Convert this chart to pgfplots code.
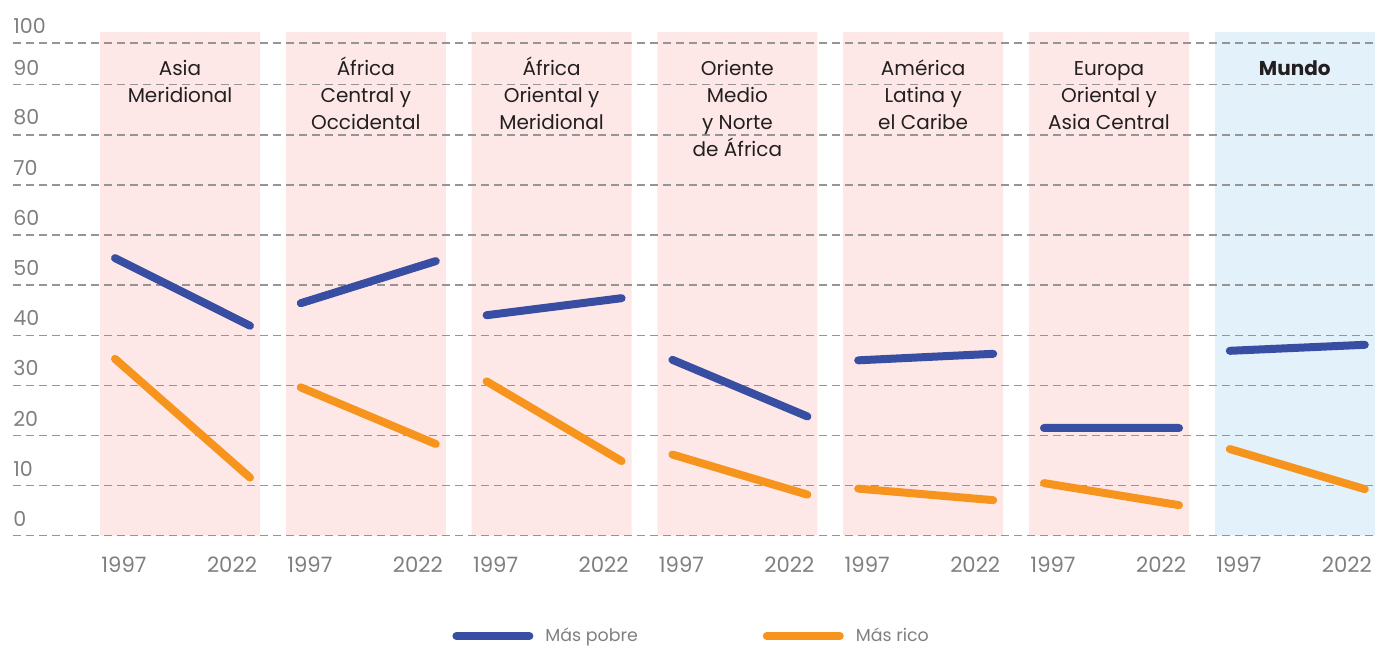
\documentclass[border=0pt]{standalone}
\usepackage{fontspec}
\setmainfont{Poppins}
\usepackage{pgfplots}
\usepackage{pgfplotstable}
\pgfplotsset{compat=1.18}
\definecolor{pobre}{HTML}{374EA2}
\definecolor{rico}{HTML}{F7941D}
\definecolor{rosa}{HTML}{FDE8E7}
\definecolor{celeste}{HTML}{E2F1FA}
\definecolor{rejilla}{HTML}{959595}
\definecolor{gris}{HTML}{7F7F7F}
\definecolor{texto}{HTML}{231F20}

% x en "pixeles" de la figura original; nan corta la linea entre paneles
\pgfplotstableread{
x      pobre  rico
115    55.4   35.3
250    41.9   11.6
260    nan    nan
300.8  46.4   29.6
435.8  54.8   18.3
445    nan    nan
486.6  44.0   30.8
621.6  47.4   14.9
630    nan    nan
672.4  35.1   16.2
807.4  23.8    8.2
815    nan    nan
858.2  35.0    9.4
993.2  36.3    7.1
1000   nan    nan
1044   21.5   10.5
1179   21.5    6.1
1185   nan    nan
1229.8 36.9   17.3
1364.8 38.1    9.3
}\datos

\begin{document}
\begin{tikzpicture}
\begin{axis}[
  set layers,
  scale only axis,
  width=681.5pt, height=323pt,
  xmin=13, xmax=1376,
  ymin=-22, ymax=106.9,
  clip=false,
  axis line style={draw=none},
  xtick=\empty,
  ytick={0,10,...,90,98.3},
  yticklabels={0,10,20,30,40,50,60,70,80,90,100},
  major tick length=0pt,
  yticklabel style={anchor=south west, inner sep=0pt, yshift=4.5pt,
    font=\fontsize{10.3}{12}\selectfont, text=gris},
  ymajorgrids,
  grid style={rejilla, line width=0.75pt, dash pattern=on 4pt off 2.5pt},
  unbounded coords=jump,
  legend image code/.code={
    \draw[#1] (2pt,0pt) -- (34.5pt,0pt);
    \path (0pt,0pt) -- (36.5pt,0pt);},
  legend style={at={(axis cs:452,-20)}, anchor=west, draw=none, fill=none,
    legend columns=2, inner sep=0pt,
    font=\fontsize{8.7}{10}\selectfont, text=gris,
    /tikz/every odd column/.append style={column sep=4pt},
    /tikz/every even column/.append style={column sep=60.5pt}},
]
% paneles de fondo
\addplot[fill=rosa, draw=none, on layer=axis background, forget plot]
  coordinates {(100,0) (260,0) (260,100.5) (100,100.5) (100,0)};
\addplot[fill=rosa, draw=none, on layer=axis background, forget plot]
  coordinates {(285.8,0) (445.8,0) (445.8,100.5) (285.8,100.5) (285.8,0)};
\addplot[fill=rosa, draw=none, on layer=axis background, forget plot]
  coordinates {(471.6,0) (631.6,0) (631.6,100.5) (471.6,100.5) (471.6,0)};
\addplot[fill=rosa, draw=none, on layer=axis background, forget plot]
  coordinates {(657.4,0) (817.4,0) (817.4,100.5) (657.4,100.5) (657.4,0)};
\addplot[fill=rosa, draw=none, on layer=axis background, forget plot]
  coordinates {(843.2,0) (1003.2,0) (1003.2,100.5) (843.2,100.5) (843.2,0)};
\addplot[fill=rosa, draw=none, on layer=axis background, forget plot]
  coordinates {(1029,0) (1189,0) (1189,100.5) (1029,100.5) (1029,0)};
\addplot[fill=celeste, draw=none, on layer=axis background, forget plot]
  coordinates {(1214.8,0) (1374.8,0) (1374.8,100.5) (1214.8,100.5) (1214.8,0)};

% series
\addplot[pobre, line width=4pt, line cap=round, forget plot] table[x=x, y=pobre] {\datos};
\addplot[rico, line width=4pt, line cap=round, forget plot] table[x=x, y=rico] {\datos};

\addlegendimage{pobre, line width=4pt, line cap=round}
\addlegendentry{Más pobre}
\addlegendimage{rico, line width=4pt, line cap=round}
\addlegendentry{Más rico}

% rotulos de paneles (anchor=base = linea de base de la ultima linea)
\begin{scope}[every node/.style={text=texto, align=center, anchor=base,
    inner sep=0pt, font=\fontsize{10}{13.5}\selectfont}]
\node at (axis cs:180,86.4) {Asia\\Meridional};
\node at (axis cs:365.8,81.0) {África\\Central y\\Occidental};
\node at (axis cs:551.6,81.0) {África\\Oriental y\\Meridional};
\node at (axis cs:737.4,75.6) {Oriente\\Medio\\y Norte\\de África};
\node at (axis cs:923.2,81.0) {América\\Latina y\\el Caribe};
\node at (axis cs:1109,81.0) {Europa\\Oriental y\\Asia Central};
\node[font=\fontsize{10}{13.5}\selectfont\bfseries] at (axis cs:1294.8,91.8) {Mundo};
\end{scope}
\pgfplotsinvokeforeach{100,285.8,471.6,657.4,843.2,1029,1214.8}{
  \node[text=gris, anchor=base, inner sep=0pt, font=\fontsize{10.6}{12}\selectfont]
    at (axis cs:#1+24,-7.4) {1997};
  \node[text=gris, anchor=base, inner sep=0pt, font=\fontsize{10.6}{12}\selectfont]
    at (axis cs:#1+132,-7.4) {2022};
}
\path (axis cs:0,-22) rectangle (axis cs:1377,106.9);
\end{axis}
\end{tikzpicture}
\end{document}
